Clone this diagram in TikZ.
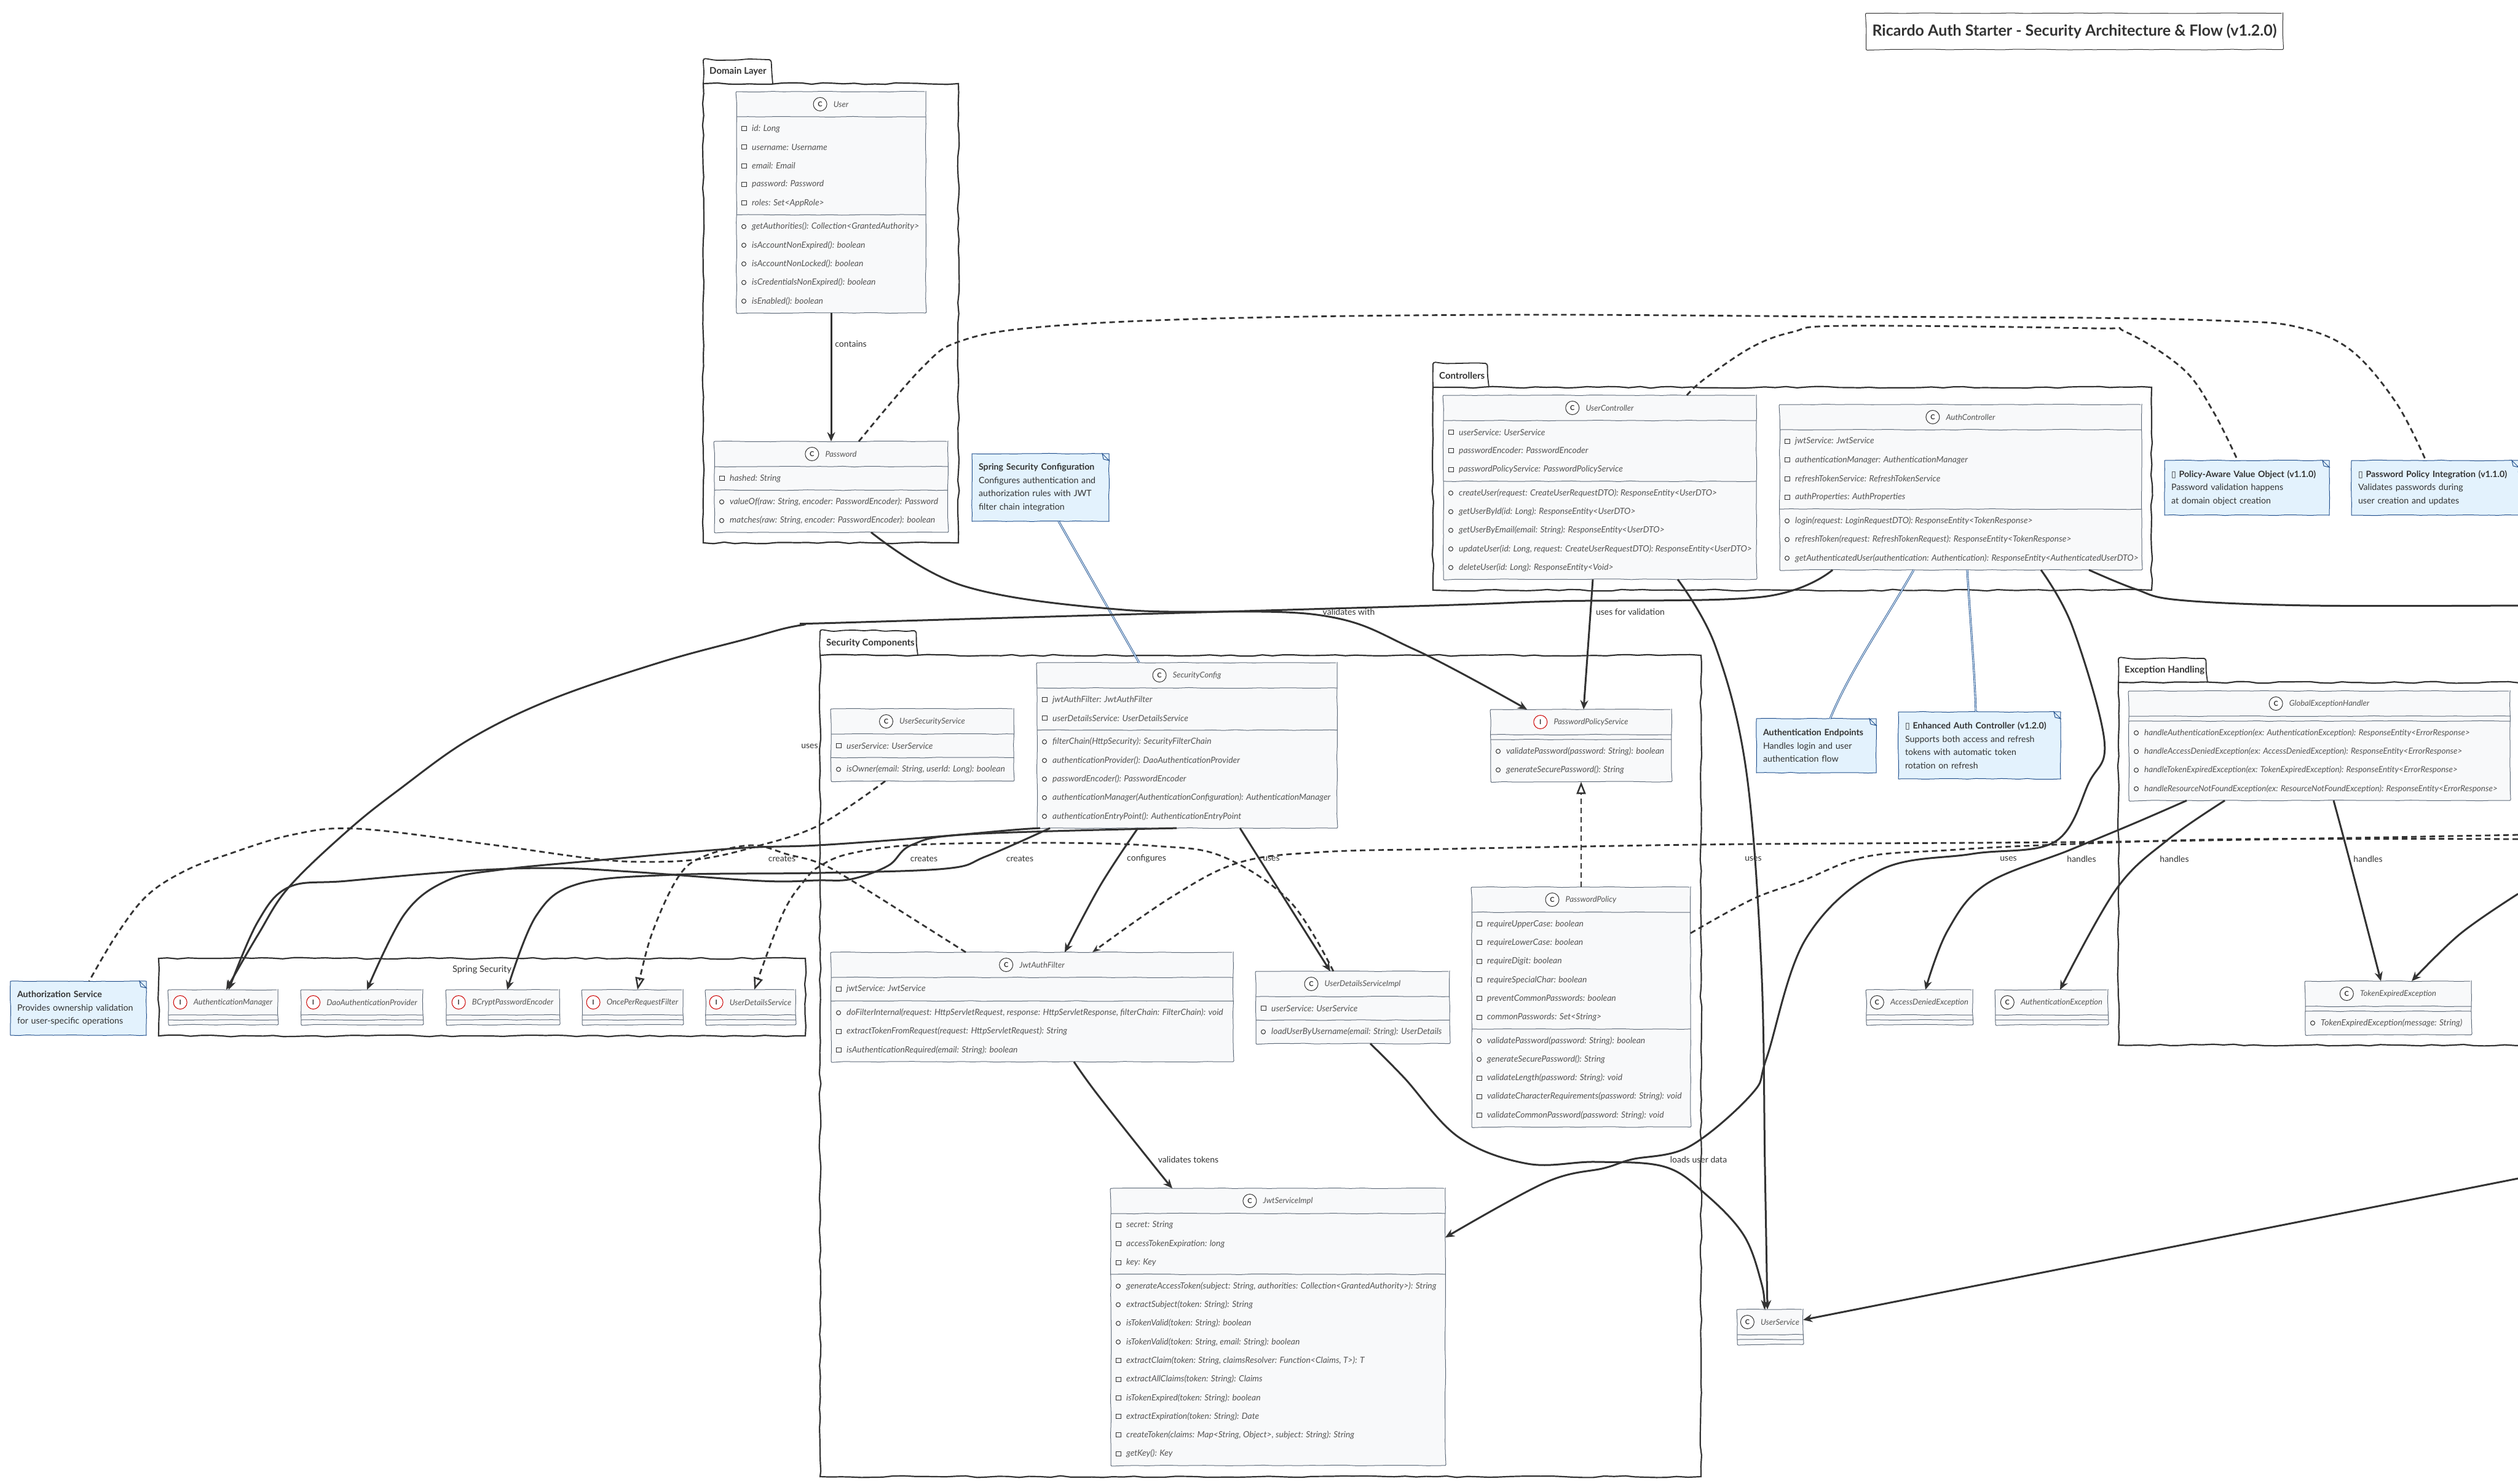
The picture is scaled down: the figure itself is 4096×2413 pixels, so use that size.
\documentclass[tikz,border=0pt]{standalone}
\usepackage{fontspec}
\setmainfont{Lato}
\newfontfamily\symfont{DejaVu Sans}
\usetikzlibrary{positioning}
\usetikzlibrary{arrows.meta}
\usetikzlibrary{decorations.pathmorphing}

\definecolor{ink}{HTML}{333333}
\definecolor{classfill}{HTML}{F8F9FA}
\definecolor{classedge}{HTML}{5F6B7A}
\definecolor{membertext}{HTML}{555555}
\definecolor{notefill}{HTML}{E3F2FD}
\definecolor{noteedge}{HTML}{1F4E8C}

\def\rowh{30.3}
\def\msize{13.9}

\tikzset{
	wobble/.style={decorate, decoration={random steps, segment length=#1, amplitude=.6pt}},
	pkgrough/.style={decorate, decoration={random steps, segment length=17pt, amplitude=1.4pt}},
	pkgframe/.style={draw=ink, line width=2.2pt, anchor=north west, outer sep=0pt, pkgrough},
	pkgline/.style={draw=ink, line width=1.8pt, rounded corners=4pt, pkgrough},
	pkglabel/.style={font=\fontsize{15}{18}\selectfont\bfseries, text=ink, inner sep=0pt, anchor=west},
	classnode/.style={draw=classedge, fill=classfill, line width=1pt, anchor=north west, outer sep=0pt, rounded corners=2pt, wobble=19pt},
	classline/.style={draw=classedge, line width=1pt, wobble=19pt},
	classtitle/.style={font=\fontsize{13}{15}\selectfont\itshape, text=membertext, inner sep=0pt},
	member/.style={font=\fontsize{\msize}{15}\selectfont\itshape, text=membertext, inner sep=0pt, anchor=west},
	marks/.style={draw=ink, line width=1pt, minimum width=8pt, minimum height=7pt, inner sep=0pt},
	marko/.style={draw=ink, line width=1pt, circle, minimum size=7pt, inner sep=0pt},
	badgeC/.style={draw=ink, line width=1pt, fill=white, circle, minimum size=22pt, inner sep=0pt, text=ink, font=\fontsize{11}{12}\selectfont\bfseries},
	badgeI/.style={draw=red!80!black, line width=1pt, fill=white, circle, minimum size=22pt, inner sep=0pt, text=ink, font=\fontsize{11}{12}\selectfont\bfseries},
	notenode/.style={draw=noteedge, fill=notefill, line width=1pt, anchor=north west, inner xsep=11pt, inner ysep=0pt, outer sep=0pt, align=left, text=ink, font=\fontsize{14.2}{21.7}\selectfont, wobble=14pt},
	notelink/.style={draw=noteedge, line width=.9pt, double=notefill, double distance=1.3pt},
	edgelabel/.style={font=\fontsize{14}{16}\selectfont, text=ink, inner sep=0pt},
	flow/.style={draw=ink, line width=3pt, -{Stealth[length=15pt, width=13pt]}},
	dashflow/.style={draw=ink, line width=2.8pt, dash pattern=on 9pt off 6pt, -{Stealth[length=13pt, width=10pt]}},
	dashplain/.style={draw=ink, line width=2.8pt, dash pattern=on 9pt off 6pt},
	realize/.style={draw=ink, line width=2.8pt, dash pattern=on 9pt off 6pt, -{Triangle[open, length=20pt, width=15pt, line width=2.5pt]}}
}

\newcommand{\classbox}[9]{
	\pgfmathsetmacro{\hf}{#6*\rowh+8}
	\pgfmathsetmacro{\hm}{#8*\rowh+8}
	\pgfmathsetmacro{\hh}{41+\hf+\hm}
	\pgfmathsetmacro{\ya}{41+\hf}
	\node (#1) [classnode, minimum width=#3, minimum height=\hh] at #2 {};
	\node (#1-t) [classtitle] at ([xshift=16pt, yshift=-20.5pt]#1.north) {#5};
	\node (#1-c) [badge#4, left=10pt of #1-t] {#4};
	\draw[classline] ([yshift=-41pt]#1.north west) -- ([yshift=-41pt]#1.north east);
	\draw[classline] ([yshift=-\ya]#1.north west) -- ([yshift=-\ya]#1.north east);
	\ifnum#6>0
	\foreach \vis/\txt [count=\rn] in {#7}
		{
			\pgfmathsetmacro{\yp}{45+(\rn-.5)*\rowh}
			\node (#1-fm\rn) [mark\vis] at ([xshift=12pt, yshift=-\yp]#1.north west) {};
			\node (#1-f\rn) [member] at ([xshift=25pt, yshift=-\yp]#1.north west) {\txt};
		}
	\fi
	\ifnum#8>0
	\foreach \vis/\txt [count=\rn] in {#9}
		{
			\pgfmathsetmacro{\yp}{\ya+4+(\rn-.5)*\rowh}
			\node (#1-mm\rn) [mark\vis] at ([xshift=12pt, yshift=-\yp]#1.north west) {};
			\node (#1-m\rn) [member] at ([xshift=25pt, yshift=-\yp]#1.north west) {\txt};
		}
	\fi
}

\newcommand{\package}[7]{
	\node (#1) [pkgframe, minimum width=#3, minimum height=#4] at #2 {};
	\draw[pkgline] (#1.north west) -- ++(0,-#6) -- ++(#5-5,0) -- ++(5,#6);
	\node (#1-l) [pkglabel] at ([xshift=10pt, yshift=#6/2*1pt]#1.north west) {#7};
}

\newcommand{\notebox}[5]{
	\node (#1) [notenode, text width=#3-22, minimum height=#4] at #2 {#5};
	\draw[draw=noteedge, line width=1pt] ([xshift=-11pt]#1.north east) -- ([yshift=-11pt]#1.north east) -- ([xshift=-9pt, yshift=-9pt]#1.north east) -- cycle;
}

\newcommand{\sq}{{\symfont ▯}}

\begin{document}
\begin{tikzpicture}[x=1pt, y=-1pt]

	\pgfmathsetseed{11}
	\clip (0,0) rectangle (4096,2413);

	\node (titleBox) [draw=ink, line width=1pt, anchor=north west, minimum width=678, minimum height=59, rounded corners=2pt, text=ink, font=\fontsize{25}{29}\selectfont\bfseries, wobble=22pt] at (3035,21) {Ricardo Auth Starter - Security Architecture \& Flow (v1.2.0)};

	% packages
	\package{pkgDomain}{(1144,136)}{415}{747}{113}{39}{Domain Layer}
	\package{pkgControllers}{(2331,630)}{1169}{330}{91}{39}{Controllers}
	\package{pkgSecurity}{(1334,1066)}{1433}{1336}{159}{40}{Security Components}
	\package{pkgException}{(3446,1110)}{720}{590}{145}{39}{Exception Handling}
	\node (pkgSpring) [pkgframe, minimum width=1052, minimum height=126] at (258,1559) {};
	\node (pkgSpring-l) [edgelabel, font=\fontsize{14.5}{16}\selectfont] at (784,1578) {Spring Security};

	% classes
	\classbox{user}{(1198,149)}{308}{C}{User}{5}{s/{id: Long}, s/{username: Username}, s/{email: Email}, s/{password: Password}, s/{roles: Set<AppRole>}}{5}{o/{getAuthorities(): Collection<GrantedAuthority>}, o/{isAccountNonExpired(): boolean}, o/{isAccountNonLocked(): boolean}, o/{isCredentialsNonExpired(): boolean}, o/{isEnabled(): boolean}}
	\classbox{pwd}{(1162,718)}{380}{C}{Password}{1}{s/{hashed: String}}{2}{o/{valueOf(raw: String, encoder: PasswordEncoder): Password}, o/{matches(raw: String, encoder: PasswordEncoder): boolean}}

	\classbox{uctrl}{(2348,643)}{509}{C}{UserController}{3}{s/{userService: UserService}, s/{passwordEncoder: PasswordEncoder}, s/{passwordPolicyService: PasswordPolicyService}}{5}{o/{createUser(request: CreateUserRequestDTO): ResponseEntity<UserDTO>}, o/{getUserById(id: Long): ResponseEntity<UserDTO>}, o/{getUserByEmail(email: String): ResponseEntity<UserDTO>}, o/{updateUser(id: Long, request: CreateUserRequestDTO): ResponseEntity<UserDTO>}, o/{deleteUser(id: Long): ResponseEntity<Void>}}
	\classbox{actrl}{(2895,658)}{589}{C}{AuthController}{4}{s/{jwtService: JwtService}, s/{authenticationManager: AuthenticationManager}, s/{refreshTokenService: RefreshTokenService}, s/{authProperties: AuthProperties}}{3}{o/{login(request: LoginRequestDTO): ResponseEntity<TokenResponse>}, o/{refreshToken(request: RefreshTokenRequest): ResponseEntity<TokenResponse>}, o/{getAuthenticatedUser(authentication: Authentication): ResponseEntity<AuthenticatedUserDTO>}}

	\classbox{scfg}{(1687,1078)}{488}{C}{SecurityConfig}{2}{s/{jwtAuthFilter: JwtAuthFilter}, s/{userDetailsService: UserDetailsService}}{5}{o/{filterChain(HttpSecurity): SecurityFilterChain}, o/{authenticationProvider(): DaoAuthenticationProvider}, o/{passwordEncoder(): PasswordEncoder}, o/{authenticationManager(AuthenticationConfiguration): AuthenticationManager}, o/{authenticationEntryPoint(): AuthenticationEntryPoint}}
	\classbox{uss}{(1352,1153)}{297}{C}{UserSecurityService}{1}{s/{userService: UserService}}{1}{o/{isOwner(email: String, userId: Long): boolean}}
	\classbox{jwtf}{(1352,1549)}{654}{C}{JwtAuthFilter}{1}{s/{jwtService: JwtService}}{3}{o/{doFilterInternal(request: HttpServletRequest, response: HttpServletResponse, filterChain: FilterChain): void}, s/{extractTokenFromRequest(request: HttpServletRequest): String}, s/{isAuthenticationRequired(email: String): boolean}}
	\classbox{udsi}{(2043,1580)}{315}{C}{UserDetailsServiceImpl}{1}{s/{userService: UserService}}{1}{o/{loadUserByUsername(email: String): UserDetails}}
	\classbox{pps}{(2425,1154)}{294}{I}{PasswordPolicyService}{0}{}{2}{o/{validatePassword(password: String): boolean}, o/{generateSecurePassword(): String}}
	\classbox{ppol}{(2394,1443)}{356}{C}{PasswordPolicy}{6}{s/{requireUpperCase: boolean}, s/{requireLowerCase: boolean}, s/{requireDigit: boolean}, s/{requireSpecialChar: boolean}, s/{preventCommonPasswords: boolean}, s/{commonPasswords: Set<String>}}{5}{o/{validatePassword(password: String): boolean}, o/{generateSecurePassword(): String}, s/{validateLength(password: String): void}, s/{validateCharacterRequirements(password: String): void}, s/{validateCommonPassword(password: String): void}}
	\classbox{jwts}{(1807,1933)}{544}{C}{JwtServiceImpl}{3}{s/{secret: String}, s/{accessTokenExpiration: long}, s/{key: Key}}{10}{o/{generateAccessToken(subject: String, authorities: Collection<GrantedAuthority>): String}, o/{extractSubject(token: String): String}, o/{isTokenValid(token: String): boolean}, o/{isTokenValid(token: String, email: String): boolean}, s/{extractClaim(token: String, claimsResolver: Function<Claims, T>): T}, s/{extractAllClaims(token: String): Claims}, s/{isTokenExpired(token: String): boolean}, s/{extractExpiration(token: String): Date}, s/{createToken(claims: Map<String, Object>, subject: String): String}, s/{getKey(): Key}}

	\def\msize{13.5}
	\classbox{geh}{(3463,1124)}{620}{C}{GlobalExceptionHandler}{0}{}{4}{o/{handleAuthenticationException(ex: AuthenticationException): ResponseEntity<ErrorResponse>}, o/{handleAccessDeniedException(ex: AccessDeniedException): ResponseEntity<ErrorResponse>}, o/{handleTokenExpiredException(ex: TokenExpiredException): ResponseEntity<ErrorResponse>}, o/{handleResourceNotFoundException(ex: ResourceNotFoundException): ResponseEntity<ErrorResponse>}}
	\def\msize{13.9}
	\classbox{tee}{(3750,1596)}{270}{C}{TokenExpiredException}{0}{}{1}{o/{TokenExpiredException(message: String)}}
	\classbox{ade}{(3036,1610)}{173}{C}{AccessDeniedException}{0}{}{0}{}
	\classbox{aue}{(3246,1610)}{183}{C}{AuthenticationException}{0}{}{0}{}
	\classbox{usvc}{(2826,2130)}{107}{C}{UserService}{0}{}{0}{}

	\classbox{amgr}{(274,1610)}{178}{I}{AuthenticationManager}{0}{}{0}{}
	\classbox{dao}{(490,1610)}{198}{I}{DaoAuthenticationProvider}{0}{}{0}{}
	\classbox{bcrypt}{(726,1610)}{184}{I}{BCryptPasswordEncoder}{0}{}{0}{}
	\classbox{opf}{(947,1610)}{164}{I}{OncePerRequestFilter}{0}{}{0}{}
	\classbox{uds}{(1148,1610)}{146}{I}{UserDetailsService}{0}{}{0}{}

	% notes
	\notebox{noteSpring}{(1581,738)}{223}{110}{\textbf{Spring Security Configuration}\\Configures authentication and\\authorization rules with JWT\\filter chain integration}
	\notebox{noteEndp}{(2857,1169)}{195}{88}{\textbf{Authentication Endpoints}\\Handles login and user\\authentication flow}
	\notebox{noteEnh}{(3088,1158)}{264}{109}{\textbf{\sq{} Enhanced Auth Controller (v1.2.0)}\\Supports both access and refresh\\tokens with automatic token\\rotation on refresh}
	\notebox{noteAuthz}{(17,1596)}{221}{88}{\textbf{Authorization Service}\\Provides ownership validation\\for user-specific operations}
	\notebox{notePolicy}{(3521,749)}{268}{89}{\textbf{\sq{} Policy-Aware Value Object (v1.1.0)}\\Password validation happens\\at domain object creation}
	\notebox{noteInteg}{(3825,749)}{272}{89}{\textbf{\sq{} Password Policy Integration (v1.1.0)}\\Validates passwords during\\user creation and updates}

	\draw[notelink] ([xshift=141pt]noteSpring.south west) -- ([xshift=166pt]scfg.north west);
	\draw[notelink] ([xshift=218pt]actrl.south west) .. controls (3060,1020) and (3010,1090) .. ([xshift=120pt]noteEndp.north west);
	\draw[notelink] ([xshift=305pt]actrl.south west) .. controls (3205,1010) and (3212,1090) .. ([xshift=126pt]noteEnh.north west);

	\coordinate (offAuth) at (4096,985);
	\coordinate (offToken) at (4096,1454);
	\coordinate (offUser) at (4096,1917);
	\coordinate (offFilter) at (4096,1358);
	\coordinate (offPolicy) at (4096,1365);

	% domain
	\draw[flow] (user.south) -- (pwd.north);
	\draw[dashplain] plot[smooth, tension=.6] coordinates {([xshift=235pt]pwd.north west) (1500,598) (1562,555) (1691,532) (1978,518) (2457,512) (3000,515) (3400,517) (3622,522) (3733,531) (3822,568) (3897,654) ([xshift=121pt]noteInteg.north west)};
	\draw[dashplain] plot[smooth, tension=.6] coordinates {([xshift=396pt]uctrl.north west) (2772,617) (2849,565) (2916,540) (3000,530) (3400,534) (3458,540) (3551,600) (3600,669) ([xshift=119pt]notePolicy.north west)};
	\draw[flow] plot[smooth, tension=.6] coordinates {([xshift=255pt]pwd.south west) (1567,953) (1828,992) (2142,1000) (2300,1056) ([xshift=59pt]pps.north west)};

	% controllers
	\draw[flow] ([xshift=243pt]uctrl.south west) -- ([xshift=151pt]pps.north west);
	\draw[flow] plot[smooth, tension=.6] coordinates {([xshift=381pt]uctrl.south west) (2790,1050) (2840,1250) (2865,1570) (2871,1900) ([xshift=49pt]usvc.north west)};
	\draw[flow] plot[smooth, tension=.6] coordinates {([xshift=186pt]udsi.south west) (2284,1753) (2373,1850) (2485,1893) (2596,1890) (2708,1898) (2775,1943) (2837,2010) (2866,2090) ([xshift=44pt]usvc.north west)};
	\draw[flow] plot[smooth, tension=.6] coordinates {([xshift=425pt]actrl.south west) (3371,1019) (3423,1204) (3398,1273) (3343,1369) (3208,1389) (3057,1416) (2937,1528) (2874,1720) (2850,1779) (2748,1865) (2654,1886) (2610,1900) (2515,1923) ([yshift=-80pt]jwts.north east)};
	\draw[flow] plot[smooth, tension=.6] coordinates {([xshift=86pt]actrl.south west) (2866,971) (2530,978) (2300,986) (1400,1012) (1303,1017) (1212,1040) (1072,1078) (896,1138) (763,1203) (651,1283) (567,1350) (470,1443) (420,1520) ([xshift=94pt]amgr.north west)};
	\draw[draw=ink, line width=3pt] plot[smooth, tension=.6] coordinates {([xshift=503pt]actrl.south west) (3473,958) (3544,976) (3757,985) (offAuth)};

	% security config
	\draw[flow] plot[smooth, tension=.6] coordinates {([xshift=164pt]scfg.south west) (1790,1440) ([xshift=380pt]jwtf.north west)};
	\draw[flow] ([xshift=330pt]scfg.south west) -- ([xshift=121pt]udsi.north west);
	\draw[flow] plot[smooth, tension=.6] coordinates {([xshift=5pt]scfg.south west) (1648,1350) (1511,1362) (1330,1375) (1197,1380) (966,1400) (812,1415) (726,1433) (658,1487) ([xshift=107pt]dao.north west)};
	\draw[flow] plot[smooth, tension=.6] coordinates {([xshift=21pt]scfg.south west) (1604,1393) (1538,1413) (1330,1420) (1094,1423) (940,1438) (872,1490) ([xshift=99pt]bcrypt.north west)};
	\draw[flow] plot[smooth, tension=.6] coordinates {([xshift=-17pt]scfg.south) (1577,1357) (1484,1374) (1445,1408) (1385,1430) (1330,1432) (1239,1433) (1026,1418) (897,1412) (752,1417) (564,1433) (470,1443) (419,1500) ([xshift=98pt]amgr.north west)};

	% dashed ones
	\draw[realize] plot[smooth, tension=.6] coordinates {([xshift=219pt]jwtf.north west) (1385,1432) (1330,1403) (1282,1390) (1222,1375) (1145,1393) (1103,1427) (1060,1520) ([xshift=90pt]opf.north west)};
	\draw[realize] plot[smooth, tension=.6] coordinates {([xshift=126pt]udsi.north west) (2098,1466) (1988,1393) (1878,1376) (1714,1371) (1495,1374) (1385,1388) (1335,1408) (1308,1433) (1273,1487) ([xshift=79pt]uds.north west)};
	\draw[dashplain] plot[smooth, tension=.6] coordinates {([xshift=88pt]uss.south west) (1331,1343) (1226,1378) (1142,1397) (1058,1402) (966,1397) (791,1373) (581,1348) (475,1358) (370,1390) (300,1417) (239,1457) (190,1520) ([xshift=128pt]noteAuthz.north west)};
	\draw[dashflow] plot[smooth, tension=.6] coordinates {(offFilter) (3446,1369) (2850,1373) (2570,1377) (2351,1381) (2150,1386) (2016,1403) (1906,1459) ([xshift=425pt]jwtf.north west)};
	\draw[realize] ([xshift=178pt]ppol.north west) -- ([xshift=147pt]pps.south west);
	\draw[dashplain] plot[smooth, tension=.6] coordinates {([yshift=-75pt]ppol.north east) (2850,1463) (2929,1434) (3033,1394) (3168,1383) (3343,1374) (3645,1365) (offPolicy)};

	% exceptions
	\draw[flow] plot[smooth, tension=.6] coordinates {([xshift=94pt]geh.south west) (3470,1340) (3366,1383) (3231,1438) (3168,1514) ([xshift=96pt]ade.north west)};
	\draw[flow] plot[smooth, tension=.6] coordinates {([xshift=156pt]geh.south west) (3525,1367) (3442,1447) ([xshift=105pt]aue.north west)};
	\draw[flow] plot[smooth, tension=.6] coordinates {([xshift=333pt]geh.south west) (3823,1403) ([xshift=123pt]tee.north west)};
	\draw[flow] plot[smooth, tension=.6] coordinates {(offToken) (4002,1519) ([xshift=173pt]tee.north west)};
	\draw[flow] (offUser) -- ([yshift=-17pt]usvc.north east);
	\draw[flow] plot[smooth, tension=.6] coordinates {([xshift=395pt]jwtf.south west) (1785,1780) (1880,1900) ([xshift=100pt]jwts.north west)};

	% labels
	\node (lblContains) [edgelabel] at (1384,559) {contains};
	\node (lblValidates) [edgelabel] at (2194,995) {validates with};
	\node (lblUsesVal) [edgelabel] at (2652,995) {uses for validation};
	\node (lblUsesA) [edgelabel] at (1317,1214) {uses};
	\foreach \x/\nm in {1272/A, 1503/B, 1659/C}
		\node (lblCreates\nm) [edgelabel] at (\x,1397) {creates};
	\node (lblConfigures) [edgelabel] at (1865,1397) {configures};
	\node (lblUsesB) [edgelabel] at (2068,1397) {uses};
	\node (lblUsesC) [edgelabel] at (2852,1397) {uses};
	\node (lblUsesD) [edgelabel] at (3267,1397) {uses};
	\foreach \x/\nm in {3386/A, 3537/B, 3852/C}
		\node (lblHandles\nm) [edgelabel] at (\x,1397) {handles};
	\node (lblTokens) [edgelabel] at (1933,1886) {validates tokens};
	\node (lblLoads) [edgelabel] at (2763,1886) {loads user data};

\end{tikzpicture}
\end{document}
